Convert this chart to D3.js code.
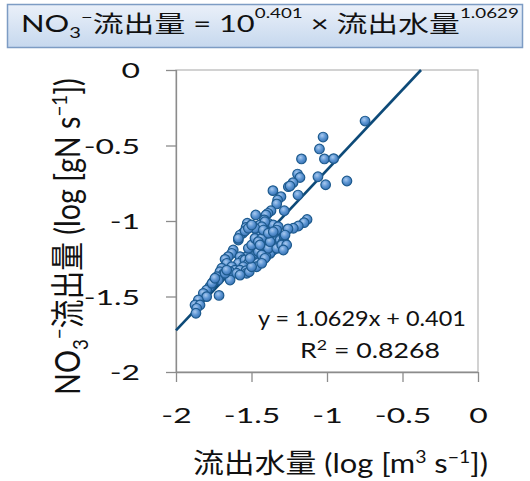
<!DOCTYPE html>
<html>
<head>
<meta charset="utf-8">
<script src="https://cdn.jsdelivr.net/npm/d3@7"></script>
<style>
  body { margin: 0; background: #fff; }
  svg text { font-family: Lato, "Noto Sans CJK JP", sans-serif; fill: #111; }
</style>
</head>
<body>
<svg id="chart" width="530" height="481"></svg>
<script>
// Discharge (log m3/s) and NO3- load (log gN/s) for each observation
const flowLog = [
  -0.748, -1.026, -1.050, -1.169, -1.017, -0.956, -1.195, -1.179, -1.060, -0.868,
  -1.009, -1.225, -1.256, -1.245, -1.358, -1.305, -1.192, -1.327, -1.333, -1.472,
  -1.371, -1.391, -1.404, -1.283, -1.132, -1.152, -1.190, -1.223, -1.258, -1.415,
  -1.389, -1.356, -1.444, -1.422, -1.323, -1.333, -1.528, -1.536, -1.558, -1.576,
  -1.466, -1.455, -1.444, -1.399, -1.377, -1.356, -1.587, -1.488, -1.466, -1.344,
  -1.311, -1.289, -1.285, -1.323, -1.356, -1.377, -1.404, -1.432, -1.462, -1.466,
  -1.510, -1.532, -1.621, -1.631, -1.576, -1.558, -1.587, -1.543, -1.521, -1.654,
  -1.675, -1.664, -1.631, -1.609, -1.642, -1.554, -1.576, -1.536, -1.598, -1.532,
  -1.515, -1.697, -1.709, -1.687, -1.730, -1.720, -1.753, -1.642, -1.775, -1.797,
  -1.819, -1.797, -1.715, -1.852, -1.874, -1.841, -1.863, -1.868, -1.762, -1.742,
  -1.675, -1.664, -1.576, -1.488, -1.466, -1.411, -1.389, -1.333, -1.278, -1.300,
  -1.455, -1.432, -1.521, -1.499, -1.411, -1.432, -1.499, -1.587, -1.477, -1.432,
  -1.455, -1.377, -1.510, -1.278, -1.411, -1.432, -1.477, -1.422, -1.389, -1.356,
  -1.543, -1.521, -1.267, -1.289, -1.499, -1.444
];
const loadLog = [
  -0.338, -0.444, -0.523, -0.589, -0.589, -0.587, -0.689, -0.712, -0.707, -0.735,
  -0.760, -0.746, -0.773, -0.768, -0.799, -0.839, -0.828, -0.861, -0.887, -0.960,
  -0.932, -0.949, -0.960, -0.932, -0.990, -1.011, -1.033, -1.048, -1.052, -0.993,
  -1.015, -1.026, -1.026, -1.048, -1.038, -1.060, -1.015, -1.042, -1.081, -1.093,
  -1.060, -1.081, -1.104, -1.081, -1.115, -1.104, -1.126, -1.170, -1.159, -1.137,
  -1.126, -1.137, -1.099, -1.170, -1.192, -1.214, -1.236, -1.258, -1.272, -1.303,
  -1.225, -1.236, -1.192, -1.214, -1.236, -1.258, -1.280, -1.258, -1.280, -1.236,
  -1.254, -1.280, -1.303, -1.325, -1.336, -1.303, -1.325, -1.329, -1.346, -1.346,
  -1.336, -1.313, -1.336, -1.351, -1.369, -1.391, -1.402, -1.391, -1.435, -1.457,
  -1.479, -1.501, -1.493, -1.523, -1.556, -1.556, -1.578, -1.611, -1.413, -1.379,
  -1.346, -1.325, -1.358, -1.225, -1.214, -1.170, -1.181, -1.181, -1.148, -1.159,
  -1.203, -1.225, -1.181, -1.159, -1.247, -1.280, -1.303, -1.115, -1.115, -1.115,
  -1.137, -1.137, -1.247, -1.093, -1.005, -1.038, -1.048, -1.060, -1.081, -1.071,
  -1.066, -1.048, -1.159, -1.192, -1.026, -1.159
];

// Power-law fit: log(load) = slope * log(flow) + intercept
const slope = 1.0629;
const intercept = 0.401;
const rSquared = 0.8268;

const xTicks = [-2, -1.5, -1, -0.5, 0];
const yTicks = [-2, -1.5, -1, -0.5, 0];
const xTickLabels = ["-2", "-1.5", "-1", "-0.5", "0"];
const yTickLabels = ["-2", "-1.5", "-1", "-0.5", "0"];

const svg = d3.select("#chart");
const plot = { left: 176, right: 478, top: 70, bottom: 372 };

const x = d3.scaleLinear().domain([-2, 0]).range([plot.left, plot.right]);
const y = d3.scaleLinear().domain([-2, 0]).range([plot.bottom, plot.top]);

// Stretch a text group horizontally so its box spans x0..x1
function fitX(g, x0, x1) {
  const b = g.node().getBBox();
  const sx = (x1 - x0) / b.width;
  g.attr("transform", `translate(${x0 - b.x * sx},0) scale(${sx},1)`);
}

// Gradients: title banner and marker shading
const defs = svg.append("defs");
const bannerGrad = defs.append("linearGradient")
  .attr("id", "bannerGrad").attr("x1", 0).attr("y1", 0).attr("x2", 0).attr("y2", 1);
bannerGrad.append("stop").attr("offset", "0%").attr("stop-color", "#eaf0f9");
bannerGrad.append("stop").attr("offset", "100%").attr("stop-color", "#c6d8ee");

const dotGrad = defs.append("radialGradient")
  .attr("id", "dotGrad").attr("cx", "40%").attr("cy", "35%").attr("r", "65%");
dotGrad.append("stop").attr("offset", "0%").attr("stop-color", "#a9c9ef");
dotGrad.append("stop").attr("offset", "55%").attr("stop-color", "#5b94d2");
dotGrad.append("stop").attr("offset", "100%").attr("stop-color", "#3b74b4");

// Title banner
svg.append("rect")
  .attr("x", 7.5).attr("y", 4.5).attr("width", 515).attr("height", 43)
  .attr("fill", "url(#bannerGrad)")
  .attr("stroke", "#7d9cc4").attr("stroke-width", 1.5);

const titleG = svg.append("g");
const title = titleG.append("text").attr("x", 0).attr("y", 32).attr("font-size", 23);
title.append("tspan").text("NO");
title.append("tspan").attr("font-size", 15).attr("dy", 6).text("3");
title.append("tspan").attr("font-size", 15).attr("dy", -15).text("−");
title.append("tspan").attr("dy", 9).text("流出量 = 10");
title.append("tspan").attr("font-size", 14).attr("dy", -14).text("0.401");
title.append("tspan").attr("dy", 14).text("  ×  流出水量");
title.append("tspan").attr("font-size", 14).attr("dy", -14).text("1.0629");
fitX(titleG, 21, 519);

// Plot frame
svg.append("rect")
  .attr("x", plot.left).attr("y", plot.top)
  .attr("width", plot.right - plot.left).attr("height", plot.bottom - plot.top)
  .attr("fill", "none").attr("stroke", "#b5b5b5").attr("stroke-width", 1.2);

// Axes
const xAxis = d3.axisBottom(x).tickValues(xTicks).tickSize(10)
  .tickFormat((d, i) => xTickLabels[i]);
const yAxis = d3.axisLeft(y).tickValues(yTicks).tickSize(10)
  .tickFormat((d, i) => yTickLabels[i]);

const gx = svg.append("g").attr("transform", `translate(0,${plot.bottom})`).call(xAxis);
const gy = svg.append("g").attr("transform", `translate(${plot.left},0)`).call(yAxis);
[gx, gy].forEach(g => {
  g.select(".domain").attr("stroke", "#8c8c8c").attr("stroke-width", 1.3);
  g.selectAll(".tick line").attr("stroke", "#8c8c8c").attr("stroke-width", 1.3);
  g.selectAll(".tick text")
    .attr("font-family", 'Lato, "Noto Sans CJK JP", sans-serif')
    .attr("font-size", 22).attr("fill", "#111");
});
gx.select(".domain").attr("d", `M${plot.left},0.5H${plot.right}`);
gy.select(".domain").attr("d", `M0.5,${plot.top}V${plot.bottom}`);
gx.selectAll(".tick text").attr("y", 51).attr("dy", 0)
  .attr("transform", "scale(1.45,1)");
gy.selectAll(".tick text").attr("x", 0).attr("dy", "0.36em")
  .attr("transform", "translate(-36,0) scale(1.45,1)");

// Trend line from the left edge up to where it leaves the top of the plot
const xEnd = (0 - intercept) / slope;
svg.append("line")
  .attr("x1", x(-2)).attr("y1", y(slope * -2 + intercept))
  .attr("x2", x(xEnd)).attr("y2", y(0))
  .attr("stroke", "#0d4a78").attr("stroke-width", 2.6);

// Observations
svg.append("g").selectAll("circle")
  .data(d3.range(flowLog.length))
  .join("circle")
  .attr("cx", i => x(flowLog[i]))
  .attr("cy", i => y(loadLog[i]))
  .attr("r", 4.8)
  .attr("fill", "url(#dotGrad)")
  .attr("stroke", "#1d5a8e").attr("stroke-width", 1.2);

// Fit equation
const eqG = svg.append("g");
eqG.append("text").attr("x", 0).attr("y", 326).attr("font-size", 21)
  .text(`y = ${slope}x + ${intercept}`);
fitX(eqG, 258, 466);
const r2G = svg.append("g");
const r2 = r2G.append("text").attr("x", 0).attr("y", 358).attr("font-size", 21);
r2.append("tspan").text("R");
r2.append("tspan").attr("font-size", 14).attr("dy", -8).text("2");
r2.append("tspan").attr("dy", 8).text(` = ${rSquared}`);
fitX(r2G, 300, 440);

// Axis titles
const xtG = svg.append("g");
const xt = xtG.append("text").attr("x", 0).attr("y", 473).attr("font-size", 27);
xt.append("tspan").text("流出水量 (log [m");
xt.append("tspan").attr("font-size", 17).attr("dy", -10).text("3");
xt.append("tspan").attr("dy", 10).text(" s");
xt.append("tspan").attr("font-size", 17).attr("dy", -10).text("−1");
xt.append("tspan").attr("dy", 10).text("])");
fitX(xtG, 193, 488);

// Vertical title: fitted along its length, widened across it
const ytG = svg.append("g");
const yt = ytG.append("text").attr("transform", "rotate(-90)").attr("font-size", 26);
yt.append("tspan").text("NO");
yt.append("tspan").attr("font-size", 17).attr("dy", 6).text("3");
yt.append("tspan").attr("font-size", 17).attr("dy", -16).text("−");
yt.append("tspan").attr("dy", 10).text("流出量 (log [gN s");
yt.append("tspan").attr("font-size", 17).attr("dy", -10).text("−1");
yt.append("tspan").attr("dy", 10).text("])");
{
  const b = ytG.node().getBBox();
  const sy = (395 - 78) / b.height;
  ytG.attr("transform", `translate(80,${78 - b.y * sy}) scale(1.3,${sy})`);
}
</script>
</body>
</html>
